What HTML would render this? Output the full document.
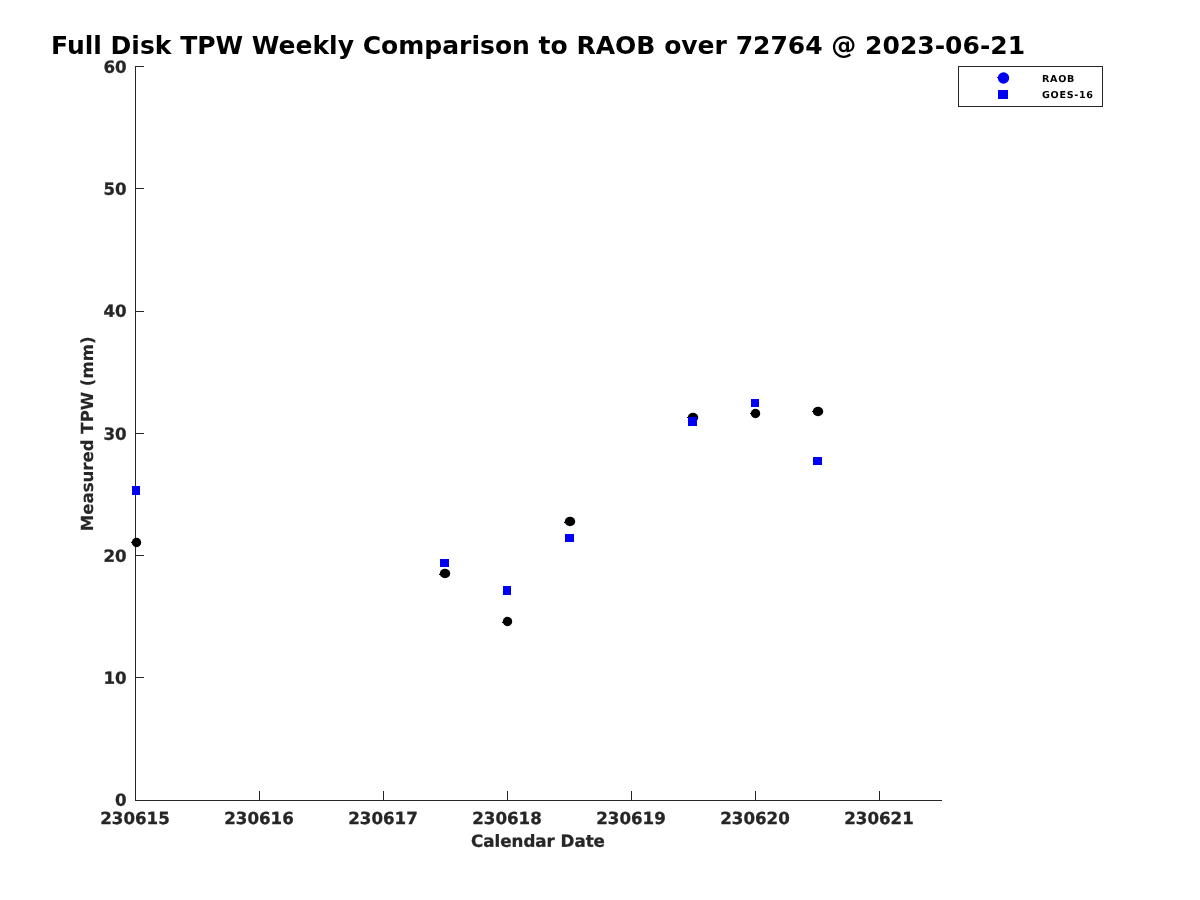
<!DOCTYPE html>
<html lang="en"><head><meta charset="utf-8"><title>Full Disk TPW Weekly Comparison</title>
<style>
html,body{margin:0;padding:0;background:#fff;}
body{width:1200px;height:900px;overflow:hidden;}
svg{display:block;}
text{font-family:"DejaVu Sans","Liberation Sans",sans-serif;font-weight:bold;}
.tk{font-size:16.67px;fill:#262626;stroke:#262626;stroke-width:0.3px;}
.yl{font-size:16.67px;fill:#262626;stroke:#262626;stroke-width:0.1px;letter-spacing:-0.06px;}
.ttl{font-size:25.03px;fill:#000;}
.lg{font-size:9.6px;fill:#000;letter-spacing:0.7px;}
</style></head><body>
<svg width="1200" height="900" viewBox="0 0 1200 900">
<rect x="0" y="0" width="1200" height="900" fill="#fff"/>
<text class="ttl" x="538.1" y="53.8" text-anchor="middle">Full Disk TPW Weekly Comparison to RAOB over 72764 @ 2023-06-21</text>
<g fill="#262626" shape-rendering="crispEdges">
<rect x="135" y="66" width="1" height="735"/>
<rect x="135" y="800" width="807" height="1"/>
<rect x="135" y="800" width="9" height="1"/>
<rect x="135" y="677" width="9" height="1"/>
<rect x="135" y="555" width="9" height="1"/>
<rect x="135" y="433" width="9" height="1"/>
<rect x="135" y="311" width="9" height="1"/>
<rect x="135" y="188" width="9" height="1"/>
<rect x="135" y="66" width="9" height="1"/>
<rect x="135" y="791" width="1" height="9"/>
<rect x="259" y="791" width="1" height="9"/>
<rect x="383" y="791" width="1" height="9"/>
<rect x="507" y="791" width="1" height="9"/>
<rect x="631" y="791" width="1" height="9"/>
<rect x="755" y="791" width="1" height="9"/>
<rect x="879" y="791" width="1" height="9"/>
</g>
<text class="tk" transform="translate(126.7,805.7) rotate(0.03)" text-anchor="end">0</text>
<text class="tk" transform="translate(126.7,683.7) rotate(0.03)" text-anchor="end">10</text>
<text class="tk" transform="translate(126.7,561.7) rotate(0.03)" text-anchor="end">20</text>
<text class="tk" transform="translate(126.7,439.7) rotate(0.03)" text-anchor="end">30</text>
<text class="tk" transform="translate(126.7,316.7) rotate(0.03)" text-anchor="end">40</text>
<text class="tk" transform="translate(126.7,194.7) rotate(0.03)" text-anchor="end">50</text>
<text class="tk" transform="translate(126.7,72.7) rotate(0.03)" text-anchor="end">60</text>
<text class="tk" transform="translate(135.0,823.9) rotate(0.03)" text-anchor="middle">230615</text>
<text class="tk" transform="translate(259.0,823.9) rotate(0.03)" text-anchor="middle">230616</text>
<text class="tk" transform="translate(383.0,823.9) rotate(0.03)" text-anchor="middle">230617</text>
<text class="tk" transform="translate(507.0,823.9) rotate(0.03)" text-anchor="middle">230618</text>
<text class="tk" transform="translate(631.0,823.9) rotate(0.03)" text-anchor="middle">230619</text>
<text class="tk" transform="translate(755.0,823.9) rotate(0.03)" text-anchor="middle">230620</text>
<text class="tk" transform="translate(879.0,823.9) rotate(0.03)" text-anchor="middle">230621</text>
<text class="tk" transform="translate(538,846.8) rotate(0.03)" text-anchor="middle">Calendar Date</text>
<text class="yl" transform="translate(93.0,433.85) rotate(-89.97)" text-anchor="middle">Measured TPW (mm)</text>
<ellipse cx="136.5" cy="542.5" rx="4.75" ry="4.75" fill="#000"/><rect x="131" y="542" width="2" height="1" fill="#000"/>
<ellipse cx="445" cy="573.5" rx="5.25" ry="4.75" fill="#000"/><rect x="439" y="574" width="2" height="1" fill="#000"/>
<ellipse cx="507.5" cy="621.5" rx="4.75" ry="4.75" fill="#000"/><rect x="502" y="622" width="2" height="1" fill="#000"/>
<ellipse cx="570" cy="521.5" rx="5.25" ry="4.75" fill="#000"/><rect x="564" y="522" width="2" height="1" fill="#000"/>
<ellipse cx="693" cy="417.5" rx="5.25" ry="4.75" fill="#000"/><rect x="687" y="417" width="2" height="1" fill="#000"/>
<ellipse cx="755.5" cy="413.5" rx="4.75" ry="4.75" fill="#000"/><rect x="750" y="413" width="2" height="1" fill="#000"/>
<ellipse cx="818" cy="411.5" rx="5.25" ry="4.75" fill="#000"/><rect x="812" y="411" width="2" height="1" fill="#000"/>
<rect x="132" y="486" width="8" height="9" fill="#0000f4"/>
<rect x="440" y="559" width="9" height="8" fill="#0000f4"/>
<rect x="503" y="586" width="8" height="9" fill="#0000f4"/>
<rect x="565" y="534" width="9" height="8" fill="#0000f4"/>
<rect x="688" y="417" width="9" height="9" fill="#0000f4"/>
<rect x="751" y="399" width="8" height="8" fill="#0000f4"/>
<rect x="813" y="457" width="9" height="8" fill="#0000f4"/>
<rect x="958.5" y="66.5" width="144" height="40" fill="#fff" stroke="#262626" stroke-width="1" shape-rendering="crispEdges"/>
<ellipse cx="1003.5" cy="78" rx="5.7" ry="5.7" fill="#0000f4"/><rect x="997" y="77" width="2" height="1" fill="#0000f4"/>
<rect x="998" y="90" width="10" height="9" fill="#0000f4"/>
<text class="lg" transform="translate(1042.0,82.0) rotate(0.03)" text-anchor="start">RAOB</text>
<text class="lg" transform="translate(1042.0,98.0) rotate(0.03)" text-anchor="start">GOES-16</text>
</svg></body></html>
